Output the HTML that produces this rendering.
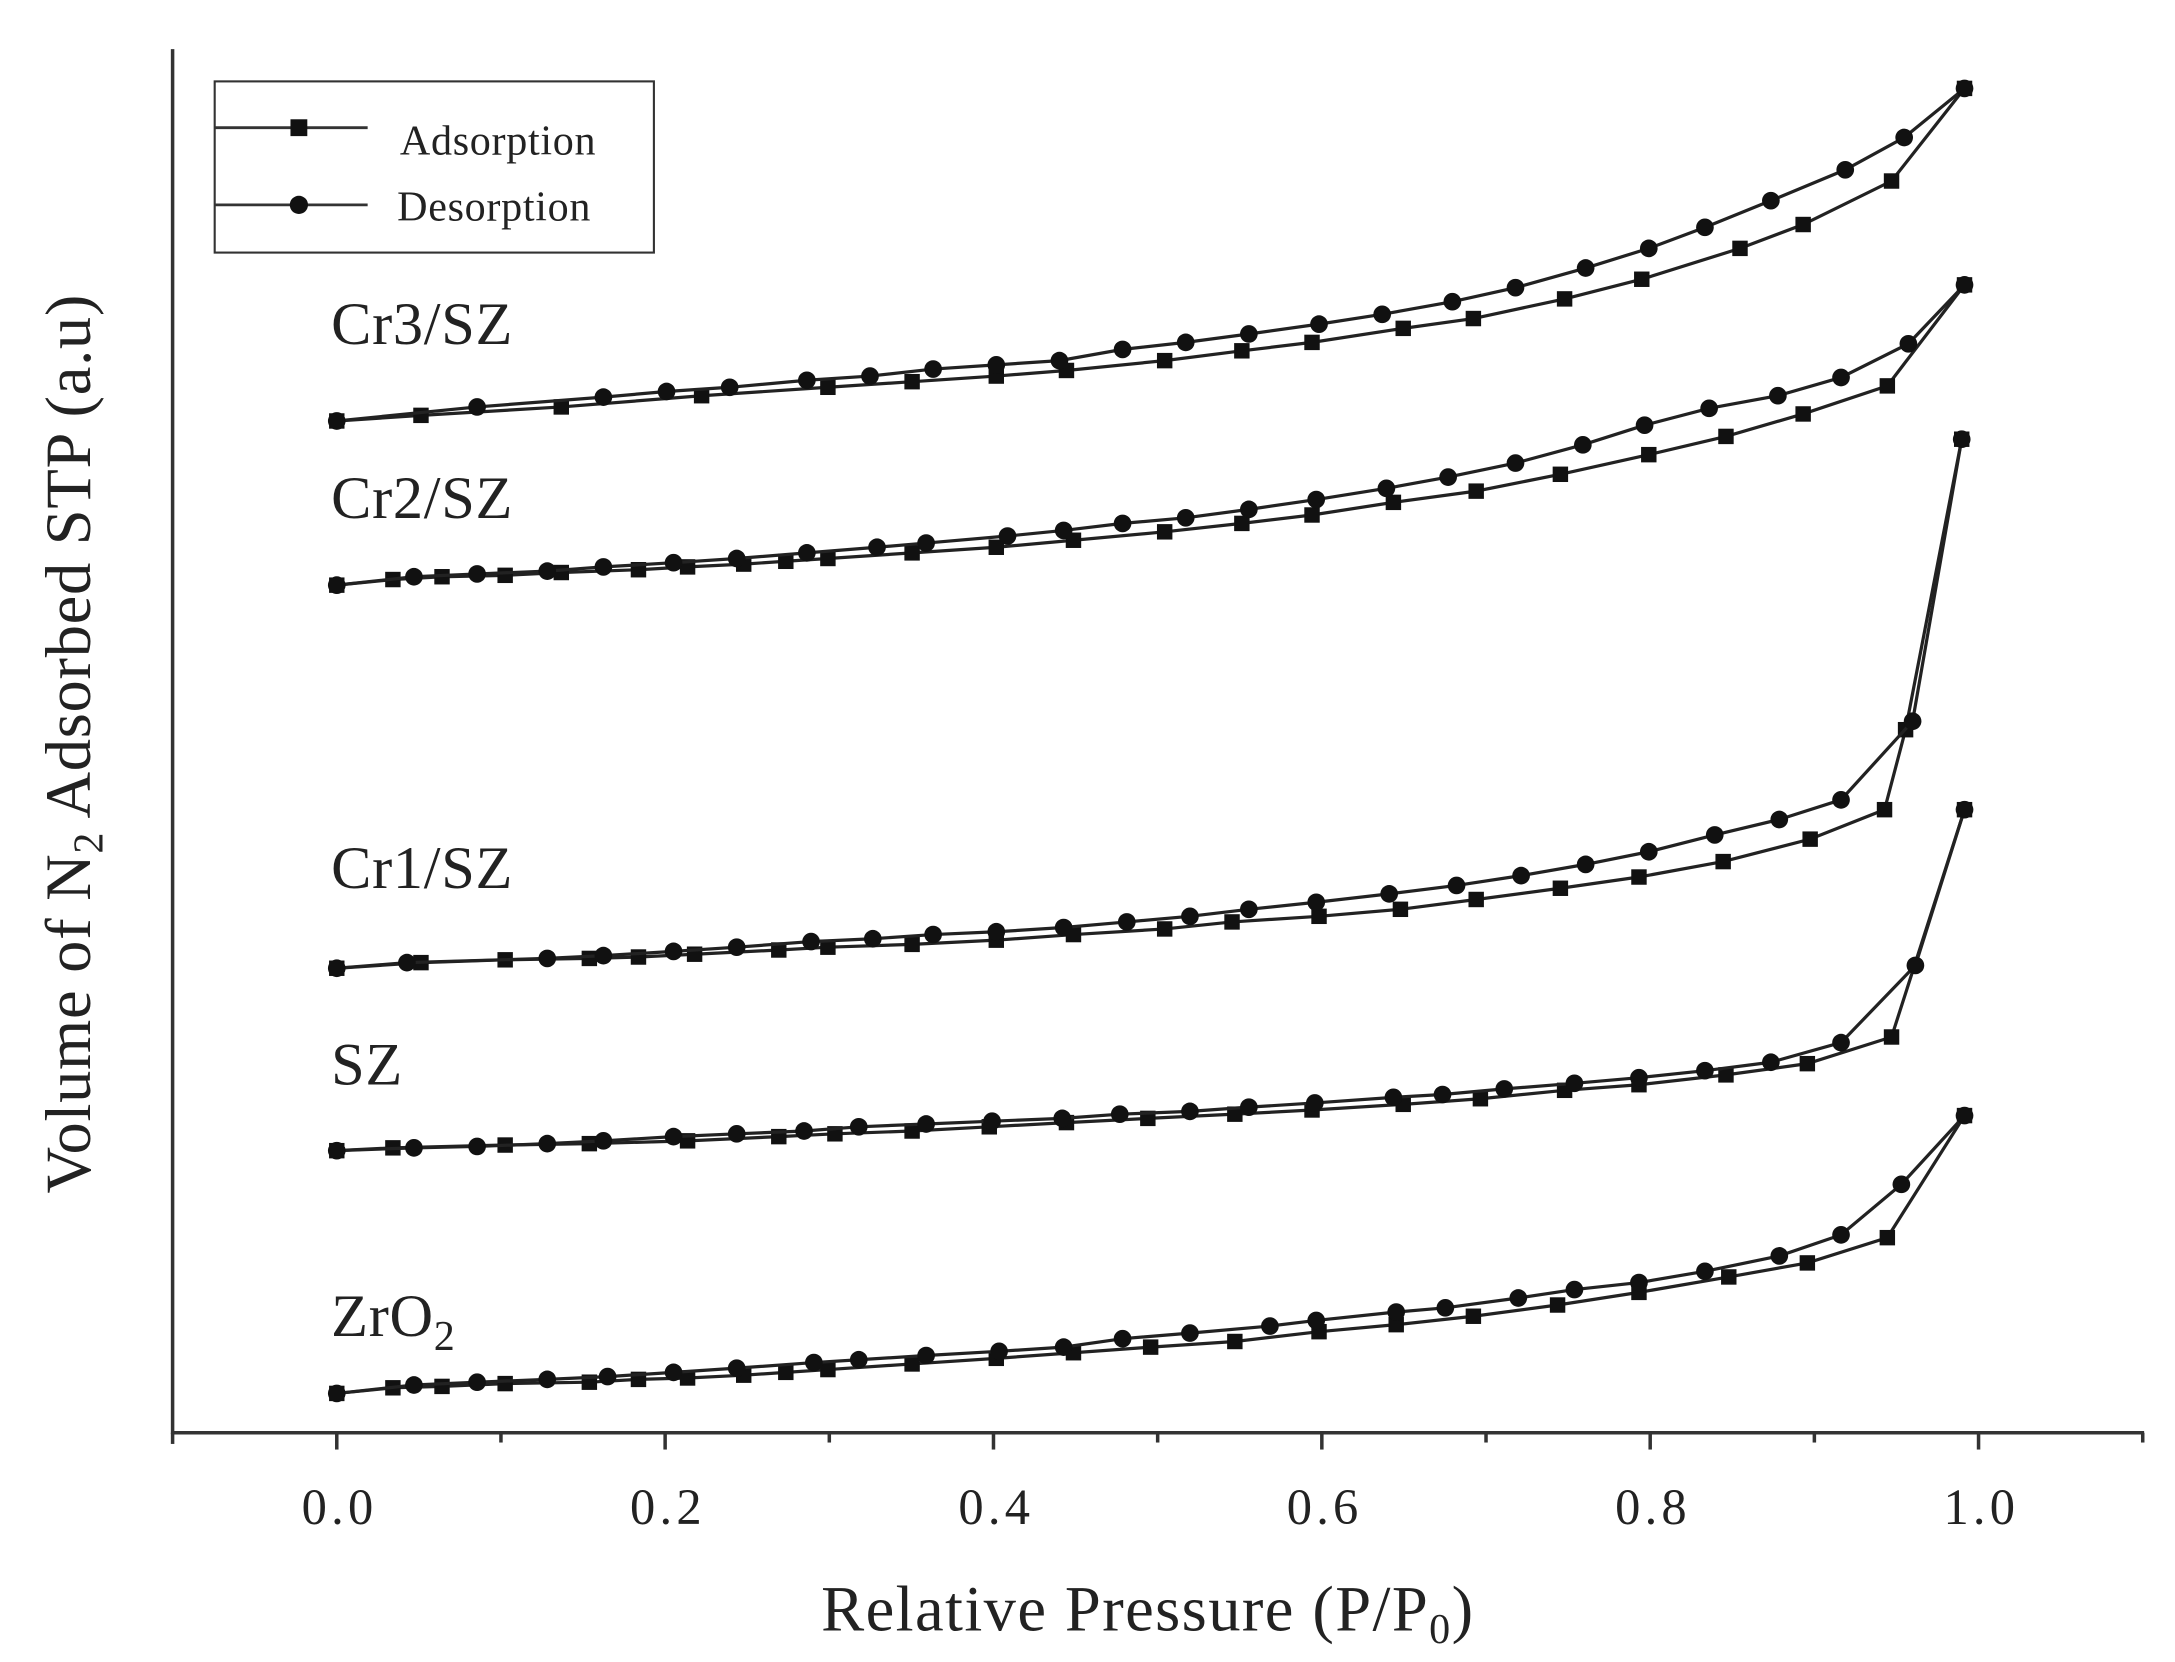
<!DOCTYPE html>
<html><head><meta charset="utf-8"><style>
html,body{margin:0;padding:0;background:#fff;}
svg{display:block;}
text{font-family:"Liberation Serif",serif;fill:#222;}
</style></head><body>
<svg id="s" width="2175" height="1662" viewBox="0 0 1550 1184.4" preserveAspectRatio="none">
<rect x="0" y="0" width="1550" height="1185" fill="#fff"/>
<g stroke="#333" stroke-width="2.5" fill="none">
<line x1="123" y1="35" x2="123" y2="1022"/>
<line x1="122" y1="1021" x2="1528" y2="1021"/>
<line x1="123" y1="1021" x2="123" y2="1029"/>
<line x1="240" y1="1021" x2="240" y2="1033"/>
<line x1="357" y1="1021" x2="357" y2="1028"/>
<line x1="474" y1="1021" x2="474" y2="1033"/>
<line x1="591" y1="1021" x2="591" y2="1028"/>
<line x1="708" y1="1021" x2="708" y2="1033"/>
<line x1="825" y1="1021" x2="825" y2="1028"/>
<line x1="942" y1="1021" x2="942" y2="1033"/>
<line x1="1059" y1="1021" x2="1059" y2="1028"/>
<line x1="1176" y1="1021" x2="1176" y2="1033"/>
<line x1="1293" y1="1021" x2="1293" y2="1028"/>
<line x1="1410" y1="1021" x2="1410" y2="1033"/>
<line x1="1527" y1="1021" x2="1527" y2="1028"/>
</g>
<g font-size="36" text-anchor="middle" letter-spacing="3">
<text x="242" y="1086">0.0</text><text x="476" y="1086">0.2</text><text x="710" y="1086">0.4</text>
<text x="944" y="1086">0.6</text><text x="1178" y="1086">0.8</text><text x="1412" y="1086">1.0</text>
</g>
<text x="818" y="1162" font-size="46" text-anchor="middle" letter-spacing="1">Relative Pressure (P/P<tspan font-size="30" dy="9">0</tspan><tspan dy="-9">)</tspan></text>
<text transform="translate(64,530) rotate(-90)" font-size="46" text-anchor="middle" letter-spacing="0.5">Volume of N<tspan font-size="30" dy="9">2</tspan><tspan dy="-9"> Adsorbed STP (a.u)</tspan></text>
<rect x="153" y="58" width="313" height="122" fill="none" stroke="#333" stroke-width="1.5"/>
<line x1="153" y1="91" x2="262" y2="91" stroke="#333" stroke-width="2"/>
<rect x="207" y="85" width="12" height="12" fill="#111"/>
<line x1="153" y1="146" x2="262" y2="146" stroke="#333" stroke-width="2"/>
<circle cx="213" cy="146" r="6.5" fill="#111"/>
<text x="285" y="110" font-size="30" letter-spacing="0.5">Adsorption</text>
<text x="283" y="157" font-size="30" letter-spacing="0.5">Desorption</text>
<g font-size="43" letter-spacing="0.5">
<text x="236" y="245">Cr3/SZ</text>
<text x="236" y="369">Cr2/SZ</text>
<text x="236" y="633">Cr1/SZ</text>
<text x="236" y="773">SZ</text>
<text x="236" y="952">ZrO<tspan font-size="30" dy="10">2</tspan></text>
</g>
<g id="data"></g>
</svg>
<script>
var S=[
[[240,300,300,296,400,290,500,282,590,276,650,272,710,268,760,264,830,257,885,250,935,244,1000,234,1050,227,1115,213,1170,199,1240,177,1285,160,1348,129,1400,63],
 [240,300,340,290,430,283,475,279,520,276,575,271,620,268,665,263,710,260,755,257,800,249,845,244,890,238,940,231,985,224,1035,215,1080,205,1130,191,1175,177,1215,162,1262,143,1315,121,1357,98,1400,63]],
[[240,417,280,413,315,411,360,410,400,408,455,406,490,404,530,402,560,400,590,398,650,394,710,390,765,385,830,379,885,373,935,367,993,358,1052,350,1112,338,1175,324,1230,311,1285,295,1345,275,1400,203],
 [240,417,295,411,340,409,390,407,430,404,480,401,525,398,575,394,625,390,660,387,718,382,758,378,800,373,845,369,890,363,938,356,988,348,1032,340,1080,330,1128,317,1172,303,1218,291,1267,282,1312,269,1360,245,1400,203]],
[[240,690,300,686,360,684,420,683,455,682,495,680,555,677,590,675,650,673,710,670,765,666,830,662,878,657,940,653,998,648,1052,641,1112,633,1168,625,1228,614,1290,598,1343,577,1358,520,1398,313],
 [240,690,290,686,390,683,430,681,480,678,525,675,578,671,622,669,665,666,710,664,758,661,803,657,848,653,890,648,938,643,990,637,1038,631,1084,624,1130,616,1175,607,1222,595,1268,584,1312,570,1363,514,1398,313]],
[[240,820,280,818,360,816,420,815,490,813,555,810,595,808,650,806,705,803,760,800,818,797,880,794,935,791,1000,787,1055,783,1115,777,1168,773,1230,766,1288,758,1348,739,1400,577],
 [240,820,295,818,340,817,390,815,430,813,480,810,525,808,573,806,612,803,660,801,707,799,757,797,798,794,848,792,890,789,937,786,993,782,1028,780,1072,776,1122,772,1168,768,1215,763,1262,757,1312,743,1365,688,1400,577]],
[[240,993,280,989,315,988,360,986,420,985,455,983,490,982,530,980,560,978,590,976,650,972,710,968,765,964,820,960,880,956,940,949,995,944,1050,938,1110,930,1168,921,1232,910,1288,900,1345,882,1400,795],
 [240,993,295,987,340,985,390,983,433,981,480,978,525,975,580,971,612,969,660,966,712,963,758,960,800,954,848,950,905,945,938,941,995,935,1030,932,1082,925,1122,919,1168,914,1215,906,1268,895,1312,880,1355,844,1400,795]]
];
var h='';
S.forEach(function(p){
 p.forEach(function(a,k){
  var pts=[];for(var i=0;i<a.length;i+=2)pts.push(a[i]+','+a[i+1]);
  h+='<polyline points="'+pts.join(' ')+'" fill="none" stroke="#222" stroke-width="2.3"/>';
  for(var i=0;i<a.length;i+=2){
   if(k==0)h+='<rect x="'+(a[i]-5.5)+'" y="'+(a[i+1]-5.5)+'" width="11" height="11" fill="#111"/>';
   else h+='<circle cx="'+a[i]+'" cy="'+a[i+1]+'" r="6.3" fill="#111"/>';
  }
 });
});
document.getElementById('data').innerHTML=h;
</script>
</body></html>
